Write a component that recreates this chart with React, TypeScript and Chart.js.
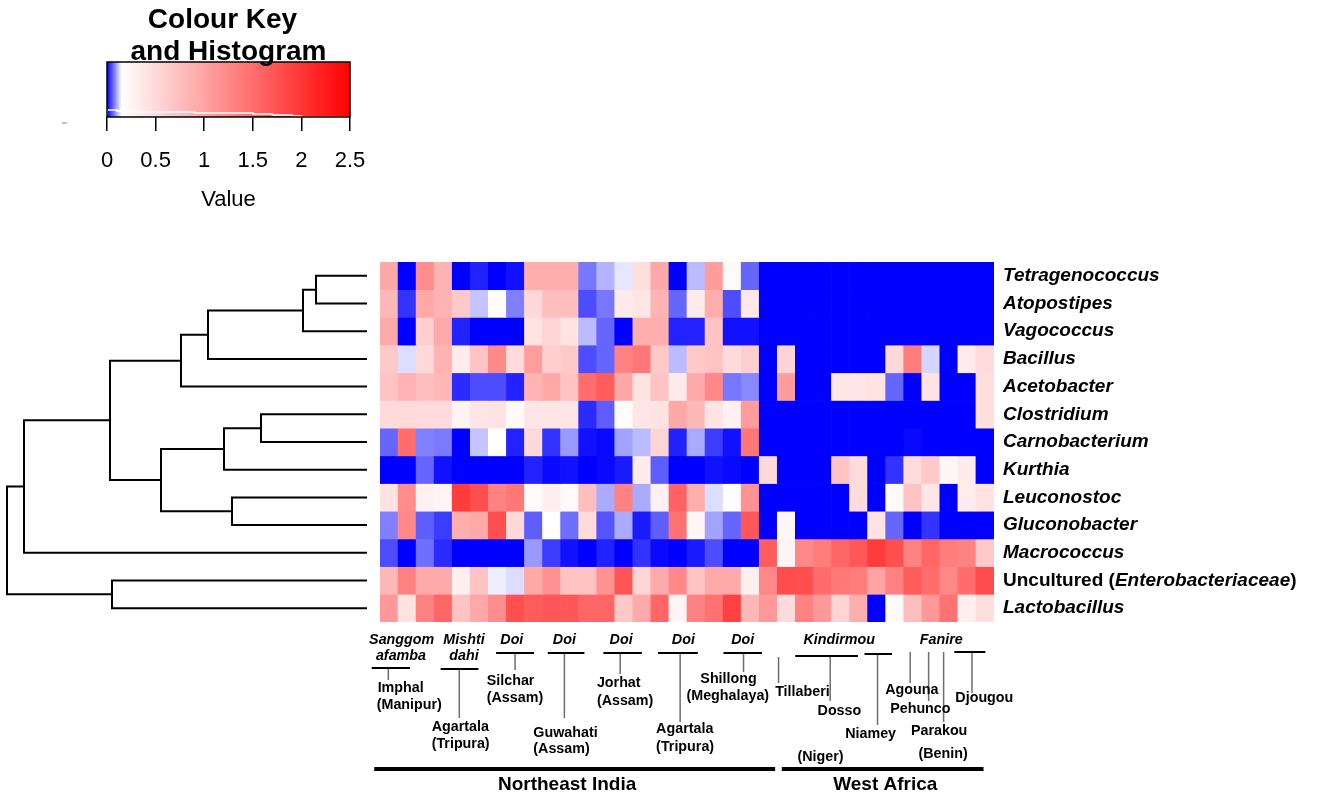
import React, { useEffect, useRef } from "react";
import { Chart, registerables } from "chart.js";
Chart.register(...registerables);

const FONT = "'Liberation Sans', Arial, Helvetica, sans-serif";
Chart.defaults.font.family = FONT;

// ---------- DATA ----------
const ROW_LABELS = [
  "Tetragenococcus", "Atopostipes", "Vagococcus", "Bacillus", "Acetobacter",
  "Clostridium", "Carnobacterium", "Kurthia", "Leuconostoc", "Gluconobacter",
  "Macrococcus", "Uncultured (Enterobacteriaceae)", "Lactobacillus",
];
const SAMPLE_IDS = [
  "S1", "S2", "S3", "S4", "S5", "S6", "S7", "S8", "S9", "S10", "S11", "S12",
  "S13", "S14", "S15", "S16", "S17", "S18", "S19", "S20", "S21", "S22", "S23",
  "S24", "S25", "S26", "S27", "S28", "S29", "S30", "S31", "S32", "S33", "S34",
];

const TETRAGENOCOCCUS = [0.95, 0, 1.2, 0.85, 0, 0.02, 0, 0.01, 0.9, 0.9, 0.9, 0.07, 0.105, 0.135, 0.45, 0.95, 0, 0.11, 1.05, 0.2, 0.06, 0, 0, 0, 0, 0, 0, 0, 0, 0, 0, 0, 0, 0];
const ATOPOSTIPES = [0.8, 0.03, 0.95, 0.85, 0.65, 0.115, 0.18, 0.075, 0.5, 0.75, 0.75, 0.045, 0.07, 0.33, 0.38, 0.85, 0.06, 0.33, 0.9, 0.045, 0.36, 0, 0, 0, 0, 0, 0, 0, 0, 0, 0, 0, 0, 0];
const VAGOCOCCUS = [0.93, 0, 0.6, 0.93, 0.02, 0, 0, 0, 0.42, 0.55, 0.42, 0.11, 0.06, 0, 0.9, 0.9, 0.02, 0.02, 0.7, 0.01, 0.01, 0, 0, 0, 0, 0, 0, 0, 0, 0, 0, 0, 0, 0];
const BACILLUS = [0.65, 0.13, 0.5, 0.85, 0.33, 0.7, 1.25, 0.48, 1.05, 0.6, 0.65, 0.045, 0.06, 1.3, 1.4, 0.65, 0.11, 0.65, 0.7, 0.48, 0.6, 0, 0.55, 0, 0, 0, 0, 0, 0.5, 1.35, 0.125, 0, 0.33, 0.48];
const ACETOBACTER = [0.7, 0.85, 0.75, 0.8, 0.025, 0.045, 0.045, 0.02, 0.85, 0.95, 0.7, 1.5, 1.65, 0.95, 0.42, 0.7, 0.33, 0.93, 1.25, 0.07, 0.08, 0, 1.05, 0, 0, 0.38, 0.38, 0.42, 0.06, 0, 0.42, 0, 0, 0.45];
const CLOSTRIDIUM = [0.48, 0.48, 0.48, 0.48, 0.25, 0.38, 0.42, 0.2, 0.38, 0.38, 0.38, 0.025, 0.055, 0.18, 0.38, 0.42, 0.95, 0.8, 0.4, 0.28, 1.05, 0, 0, 0, 0, 0, 0, 0, 0, 0, 0, 0, 0, 0.45];
const CARNOBACTERIUM = [0.06, 1.5, 0.075, 0.072, 0, 0.115, 0.15, 0.02, 0.5, 0.03, 0.09, 0.01, 0.005, 0.095, 0.11, 0.55, 0.02, 0.1, 0.035, 0.01, 1.4, 0, 0, 0, 0, 0, 0, 0, 0, 0.005, 0, 0, 0, 0];
const KURTHIA = [0, 0, 0.06, 0.01, 0, 0, 0, 0, 0.02, 0.005, 0.01, 0, 0.005, 0.015, 0.33, 0.055, 0, 0, 0.01, 0.005, 0, 0.5, 0, 0, 0, 0.7, 0.48, 0, 0.03, 0.48, 0.65, 0.22, 0.33, 0];
const LEUCONOSTOC = [0.42, 1.2, 0.28, 0.24, 1.95, 1.77, 1.3, 1.4, 0.2, 0.3, 0.2, 0.75, 0.1, 1.3, 0.1, 0.28, 1.6, 0.9, 0.13, 0.18, 1.15, 0, 0, 0, 0, 0, 0.48, 0, 0.2, 0.7, 0.38, 0, 0.33, 0.42];
const GLUCONOBACTER = [0.075, 1.25, 0.055, 0.035, 0.9, 0.95, 1.77, 0.5, 0.055, 0.15, 0.065, 0.48, 0.05, 0.1, 0.015, 0.055, 1.45, 0.22, 0.095, 0.06, 1.7, 0, 0.22, 0, 0, 0, 0, 0.42, 0.06, 0, 0.03, 0, 0, 0];
const MACROCOCCUS = [0.045, 0, 0.065, 0.025, 0, 0, 0, 0, 0.09, 0.035, 0.01, 0, 0.02, 0, 0.03, 0.005, 0, 0.015, 0.045, 0, 0, 1.65, 0.24, 1.25, 1.35, 1.55, 1.7, 1.95, 1.77, 1.3, 1.55, 1.35, 1.3, 0.65];
const UNCULTURED = [0.8, 1.3, 0.93, 0.93, 0.3, 0.7, 0.14, 0.13, 0.95, 1.15, 0.7, 0.7, 1.15, 1.7, 0.55, 0.93, 1.25, 0.7, 0.93, 0.93, 0.3, 1.25, 1.8, 1.77, 1.5, 1.4, 1.35, 1.0, 1.3, 1.65, 1.5, 1.25, 1.5, 1.8];
const LACTOBACILLUS = [1.1, 0.42, 1.3, 1.55, 0.7, 0.95, 1.2, 1.77, 1.65, 1.7, 1.7, 1.55, 1.55, 0.65, 0.93, 1.55, 0.24, 1.3, 1.45, 1.9, 0.8, 1.1, 0.48, 1.3, 1.1, 0.55, 0.9, 0, 0.2, 0.75, 1.1, 1.45, 0.3, 0.45];

const HEAT_ROWS = [
  TETRAGENOCOCCUS, ATOPOSTIPES, VAGOCOCCUS, BACILLUS, ACETOBACTER, CLOSTRIDIUM,
  CARNOBACTERIUM, KURTHIA, LEUCONOSTOC, GLUCONOBACTER, MACROCOCCUS, UNCULTURED, LACTOBACILLUS,
];

// Dendrogram merges (R hclust style: negative = leaf row, positive = earlier merge)
const MERGE_LEFT = [-1, 1, 2, 3, -6, 5, -9, 6, 4, 9, -12, 10];
const MERGE_RIGHT = [-2, -3, -4, -5, -7, -8, -10, 7, 8, -11, -13, 11];
const MERGE_HEIGHT = [0.51, 0.64, 1.59, 1.86, 1.06, 1.43, 1.35, 2.06, 2.57, 3.43, 2.55, 3.6];

// Colour key
const KEY_TICKS = [0, 0.5, 1, 1.5, 2, 2.5];
const HIST_BIN_START = [0, 0.1, 0.2, 0.3, 0.4, 0.5, 0.6, 0.7, 0.8, 0.9, 1.0, 1.1, 1.2, 1.3, 1.4, 1.5, 1.6, 1.7, 1.8, 1.9, 2.0, 2.1, 2.2, 2.3, 2.4, 2.5];
const HIST_COUNT = [2, 7, 6, 6, 5, 5, 5, 5, 5, 5, 4, 4, 4, 4, 4, 4, 3, 3, 2, 2, 1, 0, 0, 0, 0, 0];

// Annotations below heatmap: [text, colUnit, dyBelow, align, italic]
const GROUP_TEXTS: [string, number, number, string, boolean][] = [
  ["Sanggom", 1.2, 18, "center", true],
  ["afamba", 1.16, 34, "center", true],
  ["Mishti", 4.65, 18, "center", true],
  ["dahi", 4.65, 34, "center", true],
  ["Doi", 7.3, 18, "center", true],
  ["Doi", 10.21, 18, "center", true],
  ["Doi", 13.35, 18, "center", true],
  ["Doi", 16.8, 18, "center", true],
  ["Doi", 20.09, 18, "center", true],
  ["Kindirmou", 25.43, 18, "center", true],
  ["Fanire", 31.08, 18, "center", true],
  ["Imphal", -0.13, 66, "left", false],
  ["(Manipur)", -0.18, 83, "left", false],
  ["Agartala", 2.86, 105, "left", false],
  ["(Tripura)", 2.86, 122, "left", false],
  ["Silchar", 5.91, 59, "left", false],
  ["(Assam)", 5.91, 76, "left", false],
  ["Guwahati", 8.49, 111, "left", false],
  ["(Assam)", 8.49, 127, "left", false],
  ["Jorhat", 12.01, 61, "left", false],
  ["(Assam)", 12.01, 79, "left", false],
  ["Agartala", 15.29, 107, "left", false],
  ["(Tripura)", 15.29, 125, "left", false],
  ["Shillong", 19.3, 57, "center", false],
  ["(Meghalaya)", 19.26, 74, "center", false],
  ["Tillaberi", 21.88, 70, "left", false],
  ["Dosso", 24.23, 89, "left", false],
  ["Niamey", 25.76, 112, "left", false],
  ["(Niger)", 23.12, 135, "left", false],
  ["Agouna", 27.98, 68, "left", false],
  ["Pehunco", 28.25, 87, "left", false],
  ["Parakou", 29.4, 109, "left", false],
  ["(Benin)", 29.82, 132, "left", false],
  ["Djougou", 31.86, 76, "left", false],
];
const REGION_TEXTS: [string, number, number][] = [
  ["Northeast India", 10.36, 163],
  ["West Africa", 27.98, 163],
];
// [colStart, colEnd, dy]
const BRACKET_LINES: [number, number, number][] = [
  [-0.46, 1.66, 46], [3.36, 5.45, 47], [6.43, 8.53, 31], [9.29, 11.32, 31],
  [12.37, 14.5, 31], [15.4, 17.6, 31], [19.02, 21.15, 31], [22.99, 26.47, 34],
  [26.83, 28.35, 32], [31.8, 33.52, 30],
];
const REGION_LINES: [number, number, number][] = [
  [-0.32, 21.88, 147], [22.25, 33.42, 147],
];
// [col, dyTop, dyBottom]
const CONNECTORS: [number, number, number][] = [
  [0.46, 46, 58], [4.39, 47, 96], [7.48, 31, 48], [10.21, 31, 96], [13.3, 31, 52],
  [16.62, 31, 100], [20.13, 31, 50], [22.07, 35, 61], [24.93, 34, 79], [27.55, 32, 103],
  [29.36, 30, 61], [30.38, 30, 79], [31.21, 30, 100], [32.78, 30, 71],
];

// ---------- HELPERS ----------
const W = 1325;
const H = 797;
const WHITE_AT = 0.15;
const KEY_MAX = 2.5;

function valueColor(v: number): string {
  if (v <= WHITE_AT) {
    const t = Math.max(0, v) / WHITE_AT;
    const c = Math.round(255 * t);
    return `rgb(${c},${c},255)`;
  }
  const t = Math.min(1, (v - WHITE_AT) / (KEY_MAX - WHITE_AT));
  const c = Math.round(255 * (1 - t));
  return `rgb(255,${c},${c})`;
}

const heatLabelsPlugin = {
  id: "heatLabels",
  afterDraw(chart: any) {
    const ctx = chart.ctx;
    const area = chart.chartArea;
    const ys = chart.scales.y;
    const n = SAMPLE_IDS.length;
    const px = (u: number) => area.left + (u / n) * (area.right - area.left);
    ctx.save();
    // row labels
    ctx.fillStyle = "#000";
    ctx.textBaseline = "middle";
    ctx.textAlign = "left";
    ROW_LABELS.forEach((lab, r) => {
      const y = ys.getPixelForValue(r + 0.5);
      let x = area.right + 9;
      const m = lab.match(/^(.*\()(.*)(\))$/);
      const parts: [string, boolean][] = m
        ? [[m[1], false], [m[2], true], [m[3], false]]
        : [[lab, true]];
      parts.forEach(([t, it]) => {
        ctx.font = `${it ? "italic " : ""}bold 19px ${FONT}`;
        ctx.fillText(t, x, y);
        x += ctx.measureText(t).width;
      });
    });
    const base = area.bottom;
    // connectors
    ctx.strokeStyle = "#6e6e6e";
    ctx.lineWidth = 1.5;
    CONNECTORS.forEach(([u, a, b]) => {
      ctx.beginPath();
      ctx.moveTo(px(u), base + a);
      ctx.lineTo(px(u), base + b);
      ctx.stroke();
    });
    ctx.strokeStyle = "#000";
    ctx.lineWidth = 2;
    BRACKET_LINES.forEach(([u1, u2, dy]) => {
      ctx.beginPath();
      ctx.moveTo(px(u1), base + dy);
      ctx.lineTo(px(u2), base + dy);
      ctx.stroke();
    });
    ctx.lineWidth = 4;
    REGION_LINES.forEach(([u1, u2, dy]) => {
      ctx.beginPath();
      ctx.moveTo(px(u1), base + dy);
      ctx.lineTo(px(u2), base + dy);
      ctx.stroke();
    });
    ctx.textBaseline = "middle";
    GROUP_TEXTS.forEach(([t, u, dy, al, it]) => {
      ctx.font = `${it ? "italic " : ""}bold 14.3px ${FONT}`;
      ctx.textAlign = al as CanvasTextAlign;
      ctx.fillText(t, px(u), base + dy);
    });
    ctx.font = `bold 19px ${FONT}`;
    ctx.textAlign = "center";
    REGION_TEXTS.forEach(([t, u, dy]) => ctx.fillText(t, px(u), base + dy));
    ctx.restore();
  },
};

const keyPlugin = {
  id: "keyDeco",
  beforeDatasetsDraw(chart: any) {
    const ctx = chart.ctx;
    const a = chart.chartArea;
    const xs = chart.scales.x;
    const g = ctx.createLinearGradient(a.left, 0, a.right, 0);
    const stops = [0, 0.05, 0.1, WHITE_AT, 0.5, 1, 1.5, 2, KEY_MAX];
    stops.forEach((v) => g.addColorStop((xs.getPixelForValue(v) - a.left) / (a.right - a.left), valueColor(v)));
    ctx.save();
    ctx.fillStyle = g;
    ctx.fillRect(a.left, a.top, a.right - a.left, a.bottom - a.top);
    ctx.restore();
  },
  afterDraw(chart: any) {
    const ctx = chart.ctx;
    const a = chart.chartArea;
    ctx.save();
    ctx.strokeStyle = "#000";
    ctx.lineWidth = 1.5;
    ctx.strokeRect(a.left, a.top, a.right - a.left, a.bottom - a.top);
    ctx.fillStyle = "#000";
    ctx.textAlign = "center";
    ctx.textBaseline = "alphabetic";
    ctx.font = `bold 28px ${FONT}`;
    const cx = (a.left + a.right) / 2;
    ctx.fillText("Colour Key", cx - 6, a.top - 34);
    ctx.fillText("and Histogram", cx, a.top - 2);
    ctx.strokeStyle = "#888";
    ctx.lineWidth = 1;
    ctx.beginPath();
    ctx.moveTo(a.left - 45, a.bottom + 6);
    ctx.lineTo(a.left - 40, a.bottom + 6);
    ctx.stroke();
    ctx.restore();
  },
};

export default function App() {
  const heatRef = useRef<HTMLCanvasElement>(null);
  const dendRef = useRef<HTMLCanvasElement>(null);
  const keyRef = useRef<HTMLCanvasElement>(null);

  useEffect(() => {
    const charts: Chart[] = [];

    // ---- Heatmap ----
    const heatDatasets = HEAT_ROWS.map((vals, r) => ({
      label: ROW_LABELS[r],
      data: vals.map(() => [r, r + 1]),
      backgroundColor: vals.map((v) => valueColor(v)),
      borderWidth: 0,
      barPercentage: 1,
      categoryPercentage: 1,
      grouped: false,
    }));
    charts.push(
      new Chart(heatRef.current!, {
        type: "bar",
        data: { labels: SAMPLE_IDS, datasets: heatDatasets as any },
        options: {
          responsive: false,
          animation: false,
          layout: { padding: { left: 380, top: 262, right: 331, bottom: 175 } },
          plugins: { legend: { display: false }, tooltip: { enabled: false }, title: { display: false } },
          scales: {
            x: { type: "category", display: false, offset: true, grid: { display: false } },
            y: { type: "linear", min: 0, max: ROW_LABELS.length, reverse: true, display: false },
          },
        },
        plugins: [heatLabelsPlugin],
      })
    );

    // ---- Dendrogram ----
    const nodeY: number[] = [];
    const nodeH: number[] = [];
    const ref = (id: number) =>
      id < 0 ? { y: -id - 1 + 0.5, h: 0 } : { y: nodeY[id - 1], h: nodeH[id - 1] };
    const dendDatasets = MERGE_LEFT.map((l, i) => {
      const a = ref(l);
      const b = ref(MERGE_RIGHT[i]);
      const h = MERGE_HEIGHT[i];
      nodeY[i] = (a.y + b.y) / 2;
      nodeH[i] = h;
      return {
        data: [
          { x: a.h, y: a.y },
          { x: h, y: a.y },
          { x: h, y: b.y },
          { x: b.h, y: b.y },
        ],
        showLine: true,
        borderColor: "#000",
        borderWidth: 2,
        pointRadius: 0,
        tension: 0,
        clip: false as any,
      };
    });
    charts.push(
      new Chart(dendRef.current!, {
        type: "scatter",
        data: { datasets: dendDatasets as any },
        options: {
          responsive: false,
          animation: false,
          layout: { padding: { left: 7, top: 262, right: W - 367, bottom: 175 } },
          plugins: { legend: { display: false }, tooltip: { enabled: false } },
          scales: {
            x: { type: "linear", min: 0, max: Math.max(...MERGE_HEIGHT), reverse: true, display: false },
            y: { type: "linear", min: 0, max: ROW_LABELS.length, reverse: true, display: false },
          },
        },
      })
    );

    // ---- Colour key ----
    charts.push(
      new Chart(keyRef.current!, {
        type: "scatter",
        data: {
          datasets: [
            {
              data: HIST_BIN_START.map((x, i) => ({ x, y: HIST_COUNT[i] })),
              showLine: true,
              stepped: "after" as any,
              borderColor: "#ffffff",
              borderWidth: 1.5,
              pointRadius: 0,
            },
          ],
        },
        options: {
          responsive: false,
          animation: false,
          layout: { padding: { left: 107, top: 62, right: W - 350, bottom: H - 117 - 100 } },
          plugins: { legend: { display: false }, tooltip: { enabled: false } },
          scales: {
            x: {
              type: "linear",
              min: 0,
              max: KEY_MAX,
              position: "bottom",
              afterBuildTicks: (s: any) => {
                s.ticks = KEY_TICKS.map((v) => ({ value: v }));
              },
              afterFit: (s: any) => {
                s.height = 100;
              },
              ticks: {
                color: "#000",
                font: { size: 22 },
                padding: 17,
                maxRotation: 0,
                callback: (v: any) => String(v),
              },
              grid: { drawOnChartArea: false, drawTicks: true, tickLength: 14, color: "#000", lineWidth: 1.5 },
              border: { display: false },
              title: { display: true, text: "Value", color: "#000", font: { size: 22 }, padding: { top: 0, bottom: 4 } },
            },
            y: { type: "linear", min: 0, max: 55, display: false },
          },
        },
        plugins: [keyPlugin],
      })
    );

    return () => charts.forEach((c) => c.destroy());
  }, []);

  const cs: React.CSSProperties = { position: "absolute", left: 0, top: 0, width: W, height: H, display: "block" };
  return (
    <div style={{ position: "absolute", left: 0, top: 0, width: W, height: H, background: "#fff", overflow: "hidden" }}>
      <canvas ref={dendRef} width={W} height={H} style={cs} />
      <canvas ref={heatRef} width={W} height={H} style={cs} />
      <canvas ref={keyRef} width={W} height={H} style={cs} />
    </div>
  );
}
